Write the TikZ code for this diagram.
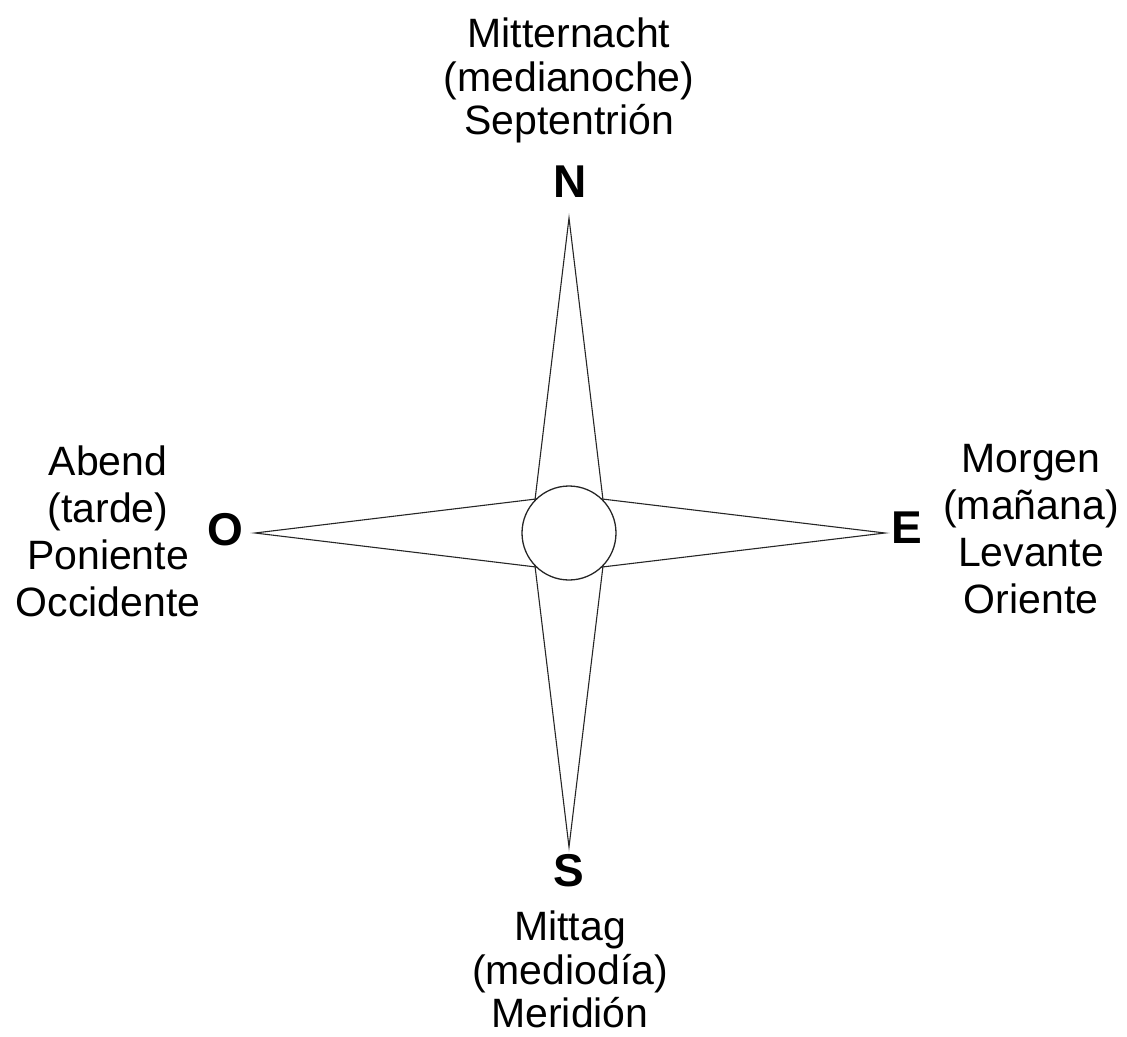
\documentclass[tikz,border=0pt]{standalone}
\usepackage{fontspec}
\setmainfont{Liberation Sans}
\begin{document}
\begin{tikzpicture}[x=1pt,y=-1pt,
  lbl/.style={inner sep=0pt,align=center,anchor=north,font=\fontsize{41}{47}\selectfont},
  tight/.style={font=\fontsize{41}{43.5}\selectfont},
  pt/.style={inner sep=0pt,anchor=base,font=\fontsize{46}{50}\selectfont\bfseries},
  ray/.style={draw=black!85,line width=1.1pt,line join=miter},
  hub/.style={draw=black!85,fill=white,line width=1.3pt}]
\useasboundingbox (0,0) rectangle (1127,1036);
% centre and tips of the star
\coordinate (c) at (569,533);
\coordinate (ntip) at (569,218);
\coordinate (stip) at (569,847);
\coordinate (wtip) at (255,533);
\coordinate (etip) at (885,533);
% waist points of the two lozenges
\coordinate (vl) at (531,533);
\coordinate (vr) at (607,533);
\coordinate (ht) at (569,495);
\coordinate (hb) at (569,571);
% north-south lozenge
\draw[ray] (ntip) -- (vl) -- (stip) -- (vr) -- cycle;
% west-east lozenge
\draw[ray] (wtip) -- (ht) -- (etip) -- (hb) -- cycle;
% central disc
\draw[hub] (c) circle[radius=47];
% cardinal letters
\node[pt] (N) at (570,197) {N};
\node[pt] (S) at (569,886) {S};
\node[pt] (O) at (225,545) {O};
\node[pt] (E) at (907,543) {E};
% names of the four directions
\node[lbl,tight] (north) at (569,17.6) {Mitternacht\\(medianoche)\\Septentrión};
\node[lbl] (west) at (108,445.6) {Abend\\(tarde)\\Poniente\\Occidente};
\node[lbl] (east) at (1031,443.6) {Morgen\\(mañana)\\Levante\\Oriente};
\node[lbl,tight] (south) at (570,910.6) {Mittag\\(mediodía)\\Meridión};
\end{tikzpicture}
\end{document}
